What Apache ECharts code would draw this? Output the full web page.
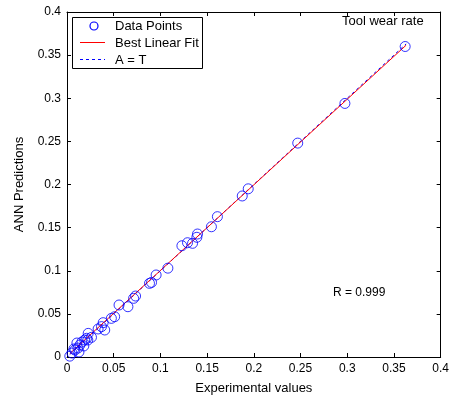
<!DOCTYPE html>
<html><head><meta charset="utf-8">
<script src="https://cdn.jsdelivr.net/npm/echarts@6/dist/echarts.min.js"></script>
<style>html,body{margin:0;padding:0;background:#fff}#c{width:452px;height:402px}</style>
</head><body><div id="c"></div>
<script>
const experimental = [0.362,0.2975,0.247,0.194,0.1876,0.161,0.1546,0.1397,0.139,0.1344,0.129,0.123,0.108,0.0954,0.0883,0.0905,0.0734,0.0713,0.0652,0.0557,0.051,0.0475,0.0387,0.0369,0.0404,0.0333,0.0227,0.0262,0.021,0.0053,0.0085,0.0117,0.0138,0.0106,0.016,0.019,0.0223,0.0128,0.018,0.003,0.0074];
const annPred = [0.360,0.294,0.248,0.195,0.1867,0.1627,0.151,0.1426,0.1388,0.1318,0.1325,0.129,0.103,0.0951,0.0854,0.0865,0.0707,0.068,0.0583,0.0603,0.0467,0.0448,0.0398,0.0352,0.0313,0.0325,0.0274,0.0228,0.0217,0.0046,0.0081,0.0104,0.0139,0.0162,0.0174,0.0197,0.0197,0.0058,0.0128,0.001,0.0093];
const fitX = [0.003, 0.363];
const fitY = [0.004, 0.3615];
const identX = [0.003, 0.363];
const identY = [0.003, 0.363];
const xTicks = [0,0.05,0.1,0.15,0.2,0.25,0.3,0.35,0.4];
const yTicks = [0,0.05,0.1,0.15,0.2,0.25,0.3,0.35,0.4];
const legendLabels = ['Data Points','Best Linear Fit','A = T'];
const titleText = 'Tool wear rate';
const rText = 'R = 0.999';

const F = 'Liberation Sans, Arial, sans-serif';
const chart = echarts.init(document.getElementById('c'), null, {renderer:'canvas'});
const axisCommon = {
  min:0, max:0.4, interval:0.05,
  axisLine:{show:true, onZero:false, lineStyle:{color:'#000', width:1}},
  axisTick:{show:true, inside:true, length:4, lineStyle:{color:'#000'}},
  splitLine:{show:false},
};
chart.setOption({
  animation:false,
  backgroundColor:'#fff',
  grid:{left:67, top:12, right:9, bottom:45},
  xAxis:[
    Object.assign({}, axisCommon, {type:'value', position:'bottom', name:'Experimental values', nameLocation:'middle', nameGap:25,
      nameTextStyle:{fontFamily:F, fontSize:13, color:'#000'},
      axisLabel:{fontFamily:F, fontSize:12, color:'#000', margin:6, formatter:v=>String(+v.toFixed(2))}}),
    Object.assign({}, axisCommon, {type:'value', position:'top', axisLabel:{show:false}})
  ],
  yAxis:[
    Object.assign({}, axisCommon, {type:'value', position:'left', name:'ANN Predictions', nameLocation:'middle', nameGap:41, nameRotate:90,
      nameTextStyle:{fontFamily:F, fontSize:13, color:'#000'},
      axisLabel:{fontFamily:F, fontSize:12, color:'#000', margin:6, formatter:v=>String(+v.toFixed(2))}}),
    Object.assign({}, axisCommon, {type:'value', position:'right', axisLabel:{show:false}})
  ],
  series:[
    {type:'line', name:legendLabels[2], data:identX.map((x,i)=>[x,identY[i]]), showSymbol:false, symbol:'none',
      lineStyle:{color:'#0000ff', width:1, type:[3,3]}, z:2},
    {type:'line', name:legendLabels[1], data:fitX.map((x,i)=>[x,fitY[i]]), showSymbol:false, symbol:'none',
      lineStyle:{color:'#ff0000', width:1}, z:3},
    {type:'scatter', name:legendLabels[0], data:experimental.map((x,i)=>[x,annPred[i]]), symbol:'circle', symbolSize:10,
      itemStyle:{color:'rgba(0,0,0,0)', borderColor:'#0000ff', borderWidth:1}, z:4}
  ],
  graphic:[
    {type:'rect', shape:{x:72.5, y:17.5, width:130, height:51}, style:{fill:'#fff', stroke:'#000', lineWidth:1}, z:10},
    {type:'circle', shape:{cx:94, cy:26, r:4}, style:{fill:'none', stroke:'#0000ff', lineWidth:1.2}, z:11},
    {type:'line', shape:{x1:80, y1:42.5, x2:105, y2:42.5}, style:{stroke:'#ff0000', lineWidth:1}, z:11},
    {type:'line', shape:{x1:80, y1:59.5, x2:105, y2:59.5}, style:{stroke:'#0000ff', lineWidth:1, lineDash:[3,3]}, z:11},
    {type:'text', style:{x:115, y:26, text:legendLabels[0], font:'13px '+F, fill:'#000', verticalAlign:'middle'}, z:11},
    {type:'text', style:{x:115, y:43, text:legendLabels[1], font:'13px '+F, fill:'#000', verticalAlign:'middle'}, z:11},
    {type:'text', style:{x:115, y:60, text:legendLabels[2], font:'13px '+F, fill:'#000', verticalAlign:'middle'}, z:11},
    {type:'text', style:{x:342, y:21, text:titleText, font:'13px '+F, fill:'#000', verticalAlign:'middle'}, z:11},
    {type:'text', style:{x:333, y:293, text:rText, font:'12px '+F, fill:'#000', verticalAlign:'middle'}, z:11}
  ]
});
</script></body></html>
